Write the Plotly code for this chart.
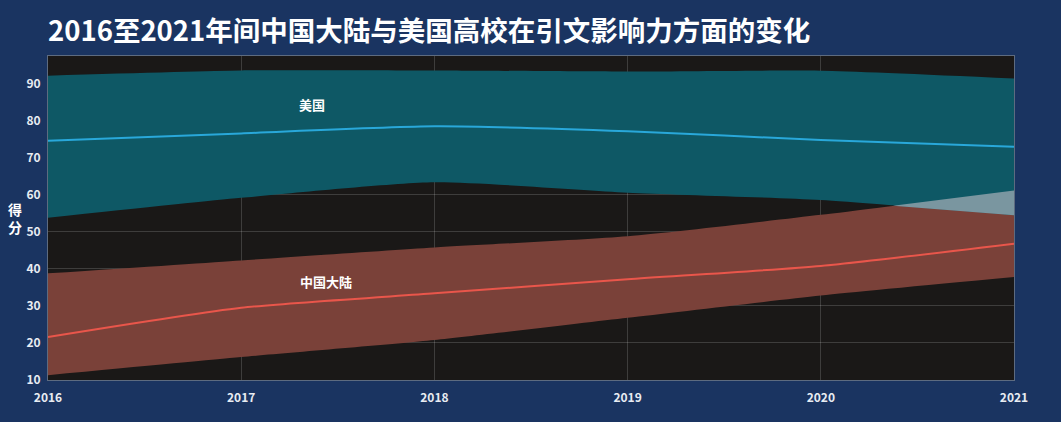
import plotly.graph_objects as go

years = [2016, 2017, 2018, 2019, 2020, 2021]
us_upper = [92.2, 93.6, 93.6, 93.3, 93.5, 91.4]
us_mean = [74.6, 76.6, 78.5, 77.2, 74.8, 73.0]
us_lower = [53.8, 59.2, 63.4, 60.6, 58.6, 54.5]
cn_upper = [38.8, 42.3, 45.8, 48.8, 54.6, 61.2]
cn_mean = [21.6, 29.5, 33.4, 37.2, 40.8, 46.8]
cn_lower = [11.3, 16.2, 20.8, 26.8, 32.8, 37.8]

title_text = "2016至2021年间中国大陆与美国高校在引文影响力方面的变化"
us_label = "美国"
cn_label = "中国大陆"
y_title = "得<br>分"
y_ticks = [10, 20, 30, 40, 50, 60, 70, 80, 90]

FONT = "Noto Sans CJK SC"
BG = "#1a3461"
US_FILL = "#0e5865"
CN_FILL = "#7a4139"
OV_FILL = "#7a96a0"
US_LINE = "#29a8da"
CN_LINE = "#e9564b"

fig = go.Figure()
smooth = dict(shape="spline", smoothing=0.6)

# China band
fig.add_trace(go.Scatter(x=years, y=cn_lower, mode="lines", line=dict(width=0, **smooth),
                         showlegend=False, hoverinfo="skip"))
fig.add_trace(go.Scatter(x=years, y=cn_upper, mode="lines", line=dict(width=0, **smooth),
                         fill="tonexty", fillcolor=CN_FILL, showlegend=False, hoverinfo="skip"))
# US band
fig.add_trace(go.Scatter(x=years, y=us_lower, mode="lines", line=dict(width=0, **smooth),
                         showlegend=False, hoverinfo="skip"))
fig.add_trace(go.Scatter(x=years, y=us_upper, mode="lines", line=dict(width=0, **smooth),
                         fill="tonexty", fillcolor=US_FILL, showlegend=False, hoverinfo="skip"))

# Overlap region (computed from the last segment of the data)
d0 = us_lower[-2] - cn_upper[-2]
d1 = us_lower[-1] - cn_upper[-1]
if d0 > 0 and d1 < 0:
    t = d0 / (d0 - d1)
    xc = years[-2] + t * (years[-1] - years[-2])
    yc = us_lower[-2] + t * (us_lower[-1] - us_lower[-2])
    fig.add_trace(go.Scatter(x=[xc, years[-1], years[-1], xc],
                             y=[yc, us_lower[-1], cn_upper[-1], yc],
                             mode="lines", line=dict(width=0), fill="toself",
                             fillcolor=OV_FILL, showlegend=False, hoverinfo="skip"))

# mean lines
fig.add_trace(go.Scatter(x=years, y=us_mean, mode="lines",
                         line=dict(color=US_LINE, width=2, **smooth), showlegend=False))
fig.add_trace(go.Scatter(x=years, y=cn_mean, mode="lines",
                         line=dict(color=CN_LINE, width=2, **smooth), showlegend=False))

fig.add_annotation(x=2016.0 + (312 - 48) / 193.2, y=84.5, text="<b>" + us_label + "</b>",
                   showarrow=False, font=dict(family=FONT, size=13, color="white"))
fig.add_annotation(x=2016.0 + (326 - 48) / 193.2, y=36.6, text="<b>" + cn_label + "</b>",
                   showarrow=False, font=dict(family=FONT, size=13, color="white"))
fig.add_annotation(xref="paper", yref="paper", x=-0.034, y=0.5, text="<b>" + y_title + "</b>",
                   showarrow=False, xanchor="center", yanchor="middle",
                   font=dict(family=FONT, size=14, color="white"))

fig.update_layout(
    width=1061, height=422,
    margin=dict(l=48, r=47, t=56, b=42),
    paper_bgcolor=BG,
    plot_bgcolor="#1a1817",
    title=dict(text="<b>" + title_text + "</b>", x=48 / 1061, xanchor="left",
               y=1 - 31 / 422, yanchor="middle",
               font=dict(family=FONT, size=27.5, color="white")),
    font=dict(family=FONT, color="#e8ecf2"),
)
fig.update_xaxes(range=[2016, 2021], tickvals=years, ticktext=[f"<b>{y}</b>" for y in years],
                 showgrid=True, gridcolor="rgba(255,255,255,0.16)", gridwidth=1,
                 showline=True, linecolor="#5d6b80", linewidth=1, mirror=True,
                 zeroline=False, ticks="", tickfont=dict(size=12, color="#e8ecf2"),
                 ticklabelstandoff=7, layer="above traces")
fig.update_yaxes(range=[10, 97.5], tickvals=y_ticks, ticktext=[f"<b>{v}</b>" for v in y_ticks],
                 showgrid=True, gridcolor="rgba(255,255,255,0.16)", gridwidth=1,
                 showline=True, linecolor="#5d6b80", linewidth=1, mirror=True,
                 zeroline=False, ticks="", tickfont=dict(size=12, color="#e8ecf2"),
                 ticklabelstandoff=4, layer="above traces")

fig.write_html("out.html", config={"displayModeBar": False},
               post_script="document.body.style.margin='0';"
                           "document.body.style.background='" + BG + "';")
